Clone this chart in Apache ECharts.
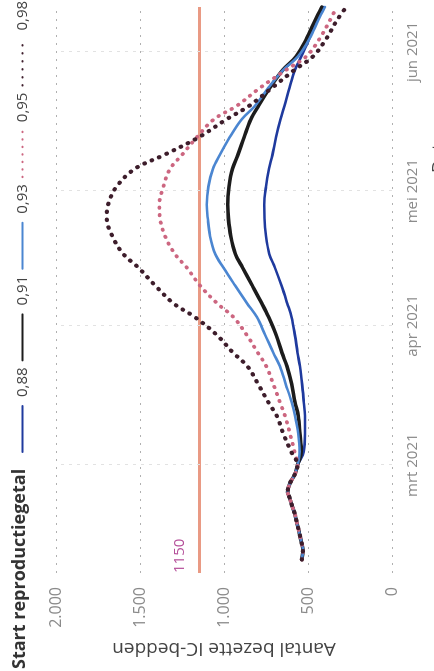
<!DOCTYPE html>
<html><head><meta charset="utf-8">
<script src="https://cdn.jsdelivr.net/npm/echarts@6/dist/echarts.min.js"></script>
<style>
html,body{margin:0;padding:0;width:434px;height:671px;overflow:hidden;background:#fff;}
#chart{position:absolute;left:0;top:0;width:671px;height:434px;transform-origin:0 0;transform:translateY(671px) rotate(-90deg);}
</style></head><body><div id="chart"></div>
<script>
// ---- data ----
const histDates = ['2021-02-08','2021-02-10','2021-02-12','2021-02-14','2021-02-16','2021-02-18','2021-02-20','2021-02-22','2021-02-23','2021-02-25','2021-02-27'];
const histValues = [537, 530, 540, 552, 565, 577, 595, 612, 621, 607, 578];
const projDates = ['2021-03-01','2021-03-04','2021-03-08','2021-03-12','2021-03-15','2021-03-19','2021-03-23','2021-03-26','2021-03-30','2021-04-03','2021-04-06','2021-04-10','2021-04-14','2021-04-17','2021-04-21','2021-04-25','2021-04-28','2021-05-02','2021-05-06','2021-05-09','2021-05-13','2021-05-17','2021-05-20','2021-05-24','2021-05-28','2021-05-31','2021-06-04','2021-06-08','2021-06-11'];
const r088 = [562, 525, 518, 518, 525, 535, 548, 562, 578, 598, 623, 658, 697, 730, 750, 759, 760, 750, 732, 712, 690, 664, 640, 610, 577, 540, 492, 450, 410];
const r091 = [562, 540, 548, 558, 577, 597, 625, 655, 690, 735, 775, 832, 890, 932, 960, 974, 978, 970, 950, 918, 880, 840, 795, 728, 650, 570, 508, 458, 418];
const r093 = [562, 550, 558, 577, 597, 632, 667, 706, 755, 805, 862, 934, 1004, 1052, 1083, 1097, 1103, 1093, 1066, 1026, 966, 895, 815, 736, 647, 560, 490, 440, 400];
const r095 = [562, 580, 607, 637, 667, 706, 748, 798, 865, 945, 1040, 1143, 1222, 1292, 1351, 1381, 1385, 1361, 1321, 1252, 1162, 1060, 924, 786, 630, 510, 430, 370, 330];
const r098 = [562, 600, 647, 686, 736, 796, 860, 945, 1043, 1175, 1300, 1410, 1510, 1599, 1665, 1698, 1690, 1640, 1530, 1360, 1150, 985, 850, 715, 580, 470, 390, 329, 272];
const seriesNames = ['0,88', '0,91', '0,93', '0,95', '0,98'];
const monthStarts = ['2021-03-01', '2021-04-01', '2021-05-01', '2021-06-01'];
const monthLabels = ['mrt 2021', 'apr 2021', 'mei 2021', 'jun 2021'];
const valueTicks = [0, 500, 1000, 1500, 2000];
const valueTickLabels = ['0', '500', '1.000', '1.500', '2.000'];
const thresholdValue = 1150;
const legendTitle = 'Start reproductiegetal';
const yAxisTitle = 'Aantal bezette IC-bedden';
const xAxisTitle = 'Datum';

// ---- build ----
const allRuns = [r088, r091, r093, r095, r098];
function buildData(run) {
  const d = histDates.map((t, i) => [t, histValues[i]]);
  return d.concat(projDates.map((t, i) => [t, run[i]]));
}
const styles = [
  { color: '#1f3a9e', width: 2.6, type: 'solid' },
  { color: '#1c1c1c', width: 3.6, type: 'solid' },
  { color: '#4b86d1', width: 2.6, type: 'solid' },
  { color: '#cc6680', width: 3.8, type: [0.5, 7] },
  { color: '#3d1d2b', width: 4.2, type: [0.5, 7.5] }
];
const FONT = '"Open Sans", "Noto Sans", sans-serif';
function pad2(n) { return (n < 10 ? '0' : '') + n; }

const series = allRuns.map((run, i) => ({
  name: seriesNames[i],
  type: 'line',
  data: buildData(run),
  smooth: 0.35,
  symbol: 'none',
  z: 3 + i,
  color: styles[i].color,
  lineStyle: { color: styles[i].color, width: styles[i].width, type: styles[i].type, cap: 'round' }
}));
series[0].markLine = {
  silent: true,
  symbol: 'none',
  z: 1,
  data: [
    {
      yAxis: thresholdValue,
      lineStyle: { color: '#e99a84', width: 2.8, type: 'solid' },
      label: { show: true, position: 'insideStartTop', formatter: String(thresholdValue), color: '#b5509a', fontSize: 15, fontFamily: FONT, distance: [0, 12] }
    }
  ].concat(monthStarts.map(m => ({
    xAxis: m,
    lineStyle: { color: '#e2e2e2', width: 1, type: [3, 5] },
    label: { show: false }
  })))
};

const chart = echarts.init(document.getElementById('chart'), null, { renderer: 'canvas' });
chart.setOption({
  animation: false,
  backgroundColor: '#ffffff',
  title: {
    text: legendTitle, left: 2, top: 11, padding: 0,
    textStyle: { fontSize: 18, fontWeight: 'bold', color: '#333', fontFamily: FONT }
  },
  legend: {
    left: 218, top: 15, width: 460, padding: 0,
    itemWidth: 46, itemHeight: 14, itemGap: 6,
    itemStyle: { opacity: 0 },
    textStyle: { fontSize: 15, color: '#444', fontFamily: FONT, padding: [0, 0, 0, 4] },
    data: seriesNames
  },
  grid: { left: 98, right: 7, top: 56, bottom: 42, containLabel: false },
  xAxis: {
    type: 'time',
    min: '2021-02-05', max: '2021-06-11',
    minInterval: 28 * 86400000,
    axisLine: { show: false }, axisTick: { show: false },
    splitLine: { show: false },
    axisLabel: {
      color: '#8a8a8a', fontSize: 15, fontFamily: FONT, margin: 13,
      showMinLabel: false, showMaxLabel: false,
      formatter: function (v) {
        const d = new Date(v);
        const key = d.getFullYear() + '-' + pad2(d.getMonth() + 1) + '-' + pad2(d.getDate());
        const idx = monthStarts.indexOf(key);
        return idx >= 0 ? monthLabels[idx] : '';
      }
    }
  },
  yAxis: {
    type: 'value', min: 0, max: 2000, interval: 500,
    name: yAxisTitle, nameLocation: 'middle', nameGap: 66,
    nameTextStyle: { fontSize: 19, color: '#444', fontFamily: FONT },
    axisLine: { show: false }, axisTick: { show: false },
    axisLabel: {
      color: '#8a8a8a', fontSize: 16, fontFamily: FONT, margin: 14,
      formatter: function (v) { const i = valueTicks.indexOf(v); return i >= 0 ? valueTickLabels[i] : ''; }
    },
    splitLine: { show: true, lineStyle: { color: '#b0b0b0', width: 1, type: [2, 6] } }
  },
  graphic: [{
    type: 'text', left: 498, top: 431,
    style: { text: xAxisTitle, fontSize: 18, fill: '#444', fontFamily: FONT }
  }],
  series: series
});
</script></body></html>
